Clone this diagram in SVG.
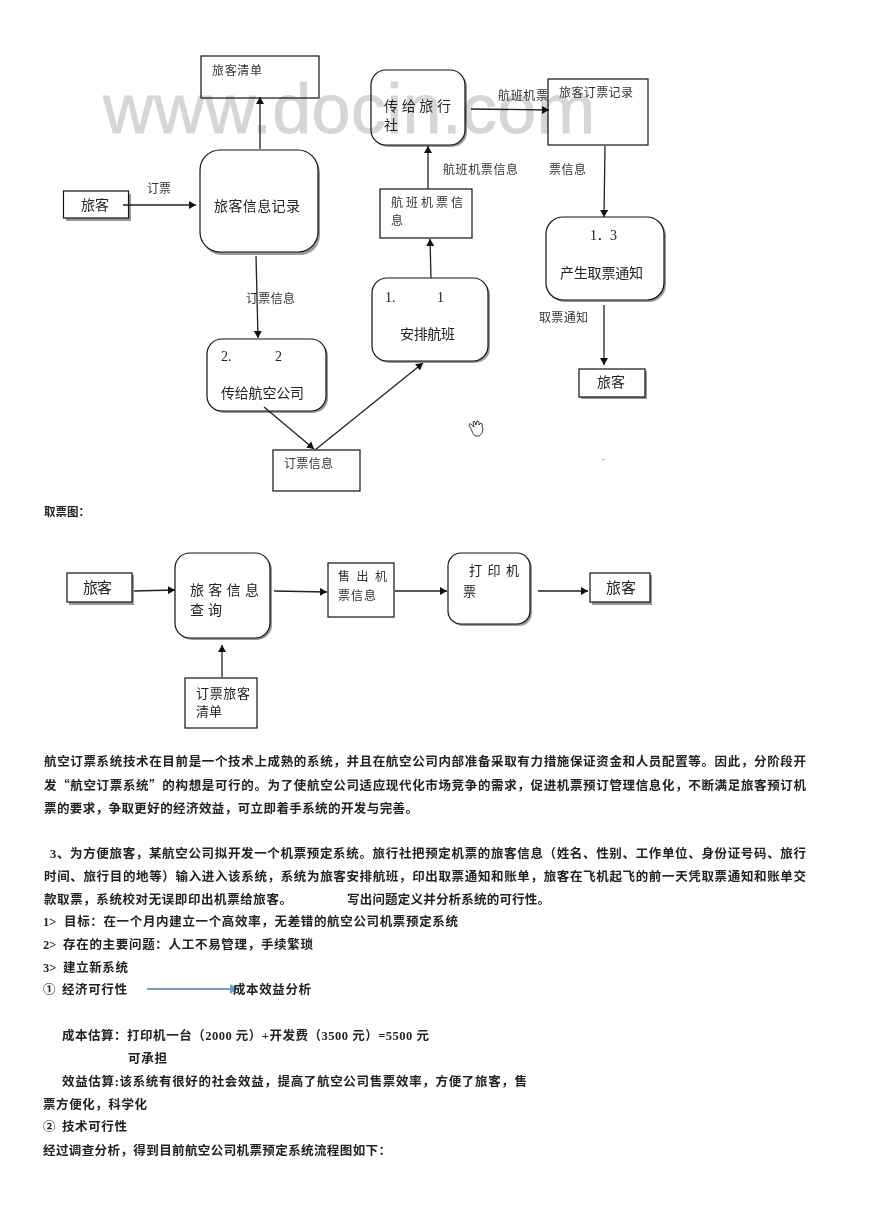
<svg xmlns="http://www.w3.org/2000/svg" width="870" height="1228" viewBox="0 0 870 1228">
<style>
text{font-family:"Liberation Serif","Noto Sans CJK SC",sans-serif;fill:#1a1a1a}
.wm{font-family:"Liberation Sans",sans-serif;font-size:70px;fill:#d6d6d6;stroke:#d6d6d6;stroke-width:0.8;mix-blend-mode:multiply}
.box{fill:#fff;stroke:#111;stroke-width:1.2}
.sh{fill:#999;stroke:none}
.lb{font-size:12px;fill:#333}
.nd{font-size:14px;fill:#222}
.bd{font-size:12.5px;font-weight:700;fill:#222}
.cj{font-family:"Noto Sans CJK SC",sans-serif}
.cn{fill:none;stroke:#222;stroke-width:1.3;marker-end:url(#ah)}
</style>
<defs>
<marker id="ah" markerUnits="userSpaceOnUse" markerWidth="8" markerHeight="8" refX="7" refY="4" orient="auto"><path d="M0 0L7 4L0 8Z" fill="#111"/></marker>
<marker id="ab" markerUnits="userSpaceOnUse" markerWidth="9" markerHeight="10" refX="8" refY="5" orient="auto"><path d="M0 0L8 5L0 10Z" fill="#6f9bc8"/></marker>
</defs>
<rect width="870" height="1228" fill="#fff"/>

<g id="n-list"><rect class="box" x="201" y="56" width="118" height="42"/><text class="lb" x="212" y="75" textLength="50">旅客清单</text></g>
<g id="n-passenger1"><rect class="sh" x="66" y="194" width="65" height="27"/><rect class="box" x="63.500" y="191" width="65" height="27"/><text class="nd" x="81" y="210" textLength="28">旅客</text></g>
<g id="n-record"><rect class="sh" x="202" y="153" width="118" height="102" rx="20"/><rect class="box" x="200" y="150" width="118" height="102" rx="20"/><text class="nd" x="214" y="211" textLength="86">旅客信息记录</text></g>
<g id="n-airline"><rect class="sh" x="209" y="341" width="119" height="72" rx="15"/><rect class="box" x="207" y="339" width="119" height="72" rx="15"/><text class="nd" x="221" y="361">2.</text><text class="nd" x="275" y="361">2</text><text class="nd" x="221" y="398" textLength="83">传给航空公司</text></g>
<g id="n-orderinfo"><rect class="box" x="273" y="450" width="87" height="41"/><text class="lb" x="284" y="468" textLength="49">订票信息</text></g>
<g id="n-schedule"><rect class="sh" x="374" y="280" width="116" height="83" rx="15"/><rect class="box" x="372" y="278" width="116" height="83" rx="15"/><text class="nd" x="385" y="302">1.</text><text class="nd" x="437" y="302">1</text><text class="nd" x="400" y="339" textLength="55">安排航班</text></g>
<g id="n-flightinfo"><rect class="box" x="380" y="189" width="92" height="49"/><text class="lb" x="391" y="207" textLength="72">航班机票信</text><text class="lb" x="391" y="225">息</text></g>
<g id="n-agency"><rect class="sh" x="373" y="72" width="94" height="75" rx="15"/><rect class="box" x="371" y="70" width="94" height="75" rx="15"/><text class="nd" x="384" y="111" textLength="67">传给旅行</text><text class="nd" x="384" y="130">社</text></g>
<g id="n-bookrecord"><rect class="box" x="548" y="79" width="100" height="66"/><text class="lb" x="559" y="97" textLength="74">旅客订票记录</text></g>
<g id="n-notice"><rect class="sh" x="548" y="219" width="118" height="83" rx="17"/><rect class="box" x="546" y="217" width="118" height="83" rx="17"/><text class="nd" x="590" y="240" textLength="27">1．3</text><text class="nd" x="560" y="278" textLength="83">产生取票通知</text></g>
<g id="n-passenger2"><rect class="sh" x="581" y="371" width="66" height="28"/><rect class="box" x="579" y="369" width="66" height="28"/><text class="nd" x="597" y="387" textLength="28">旅客</text></g>

<text class="wm" x="103" y="133" textLength="492">www.docin.com</text>

<g id="connectors">
<path class="cn" d="M123 205H196"/>
<path class="cn" d="M260 149V97"/>
<path class="cn" d="M256 256L258 338"/>
<path class="cn" d="M264 407L314 449"/>
<path class="cn" d="M315 450L423 363"/>
<path class="cn" d="M431 278L430 239"/>
<path class="cn" d="M428 189V146"/>
<path class="cn" d="M471 109L549 110"/>
<path class="cn" d="M605 146L604 217"/>
<path class="cn" d="M604 305V365"/>
<path class="cn" d="M133 591L175 590"/>
<path class="cn" d="M274 591L327 592"/>
<path class="cn" d="M395 591H447"/>
<path class="cn" d="M538 591H588"/>
<path class="cn" d="M222 677V645"/>
<path d="M147 989H238" fill="none" stroke="#6f9bc8" stroke-width="1.8" marker-end="url(#ab)"/>
</g>

<g id="edge-labels">
<text class="lb" x="147" y="193" textLength="24">订票</text>
<text class="lb" x="246" y="303" textLength="49">订票信息</text>
<text class="lb" x="498" y="100" textLength="50">航班机票</text>
<text class="lb" x="443" y="174" textLength="75">航班机票信息</text>
<text class="lb" x="549" y="174" textLength="37">票信息</text>
<text class="lb" x="539" y="322" textLength="49">取票通知</text>
</g>

<g id="hand"><path d="M472 431L469 425Q469 423 471 424L474 427L473 422Q474 420 475 422L476 425L477 421Q478 420 479 422L479 425L481 423Q483 423 482 426L483 429Q483 434 479 436L475 436Q473 434 472 431Z" fill="#fff" stroke="#111" stroke-width="0.8"/></g>
<path d="M601.500 459.500H605" stroke="#aaa" stroke-width="0.8"/>

<text class="bd" style="font-size:11.500px" x="44" y="516">取票图：</text>

<g id="p-passenger1"><rect class="sh" x="69" y="575" width="65" height="30"/><rect class="box" x="67" y="573" width="65" height="29"/><text class="nd" style="font-size:15px" x="83" y="593" textLength="29">旅客</text></g>
<g id="p-query"><rect class="sh" x="177" y="555" width="95" height="85" rx="15"/><rect class="box" x="175" y="553" width="95" height="85" rx="15"/><text class="nd" x="190" y="595" textLength="69">旅客信息</text><text class="nd" x="190" y="615" textLength="32">查询</text></g>
<g id="p-sold"><rect class="box" x="328" y="563" width="66" height="54"/><text class="lb" x="338" y="581" textLength="49">售出机</text><text class="lb" x="338" y="600" textLength="38">票信息</text></g>
<g id="p-print"><rect class="sh" x="450" y="555" width="82" height="71" rx="13"/><rect class="box" x="448" y="553" width="82" height="71" rx="13"/><text class="nd" style="font-size:13px" x="469" y="575" textLength="50">打印机</text><text class="nd" style="font-size:13px" x="463" y="596">票</text></g>
<g id="p-passenger2"><rect class="sh" x="592" y="575" width="60" height="30"/><rect class="box" x="590" y="573" width="60" height="29"/><text class="nd" style="font-size:15px" x="606" y="593" textLength="30">旅客</text></g>
<g id="p-bookedlist"><rect class="box" x="185" y="678" width="72" height="50"/><text class="nd" style="font-size:13px" x="196" y="698" textLength="54">订票旅客</text><text class="nd" style="font-size:13px" x="196" y="716" textLength="26">清单</text></g>

<g id="body">
<text class="bd" x="44" y="766" textLength="762">航空订票系统技术在目前是一个技术上成熟的系统，并且在航空公司内部准备采取有力措施保证资金和人员配置等。因此，分阶段开</text>
<text class="bd" x="44" y="790" textLength="762">发<tspan class="cj">“</tspan>航空订票系统<tspan class="cj">”</tspan>的构想是可行的。为了使航空公司适应现代化市场竞争的需求，促进机票预订管理信息化，不断满足旅客预订机</text>
<text class="bd" x="44" y="813" textLength="374">票的要求，争取更好的经济效益，可立即着手系统的开发与完善。</text>
<text class="bd" x="50" y="858" textLength="756">3、为方便旅客，某航空公司拟开发一个机票预定系统。旅行社把预定机票的旅客信息（姓名、性别、工作单位、身份证号码、旅行</text>
<text class="bd" x="44" y="881" textLength="762">时间、旅行目的地等）输入进入该系统，系统为旅客安排航班，印出取票通知和账单，旅客在飞机起飞的前一天凭取票通知和账单交</text>
<text class="bd" x="44" y="904" textLength="248">款取票，系统校对无误即印出机票给旅客。</text>
<text class="bd" x="347" y="904" textLength="203">写出问题定义并分析系统的可行性。</text>
<text class="bd" x="43" y="926">1&gt;</text><text class="bd" x="64" y="926" textLength="394">目标：在一个月内建立一个高效率，无差错的航空公司机票预定系统</text>
<text class="bd" x="43" y="949">2&gt;</text><text class="bd" x="63" y="949" textLength="250">存在的主要问题：人工不易管理，手续繁琐</text>
<text class="bd" x="43" y="972">3&gt;</text><text class="bd" x="63" y="972" textLength="65">建立新系统</text>
<text class="bd cj" x="43" y="994">①</text><text class="bd" x="62" y="994" textLength="65">经济可行性</text>
<text class="bd" x="233" y="994" textLength="78">成本效益分析</text>
<text class="bd" x="62" y="1040" textLength="367">成本估算：打印机一台（2000 元）+开发费（3500 元）=5500 元</text>
<text class="bd" x="128" y="1063" textLength="39">可承担</text>
<text class="bd" x="62" y="1086" textLength="465">效益估算:该系统有很好的社会效益，提高了航空公司售票效率，方便了旅客，售</text>
<text class="bd" x="43" y="1109" textLength="104">票方便化，科学化</text>
<text class="bd cj" x="43" y="1131">②</text><text class="bd" x="62" y="1131" textLength="65">技术可行性</text>
<text class="bd" x="43" y="1155" textLength="348">经过调查分析，得到目前航空公司机票预定系统流程图如下：</text>
</g>
</svg>
